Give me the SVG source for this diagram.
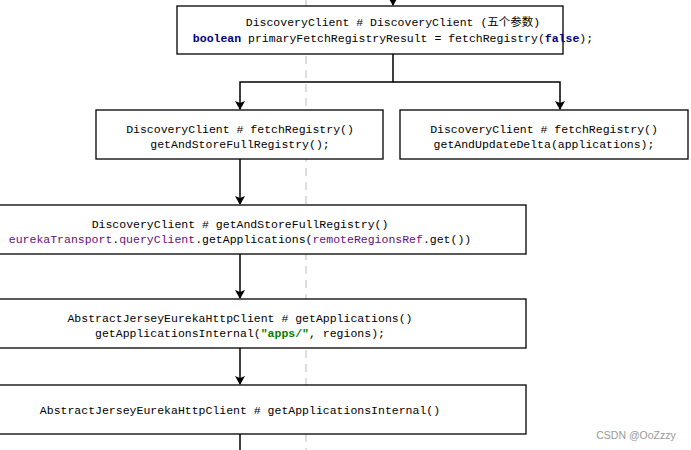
<svg xmlns="http://www.w3.org/2000/svg" width="691" height="450" viewBox="0 0 691 450">
<style>
.box{fill:#fff;stroke:#000;stroke-width:1.3}
text{font-family:"Liberation Mono","DejaVu Sans Mono","Noto Sans CJK SC",monospace;font-size:11.5px;fill:#000;text-anchor:middle}
.kw{fill:#000080;font-weight:bold}
.fld{fill:#660E7A}
.str{fill:#008000;font-weight:bold}
.c{stroke:#000;stroke-width:1.5;fill:none}
</style>
<defs><marker id="a" markerWidth="10" markerHeight="10" refX="8" refY="5" orient="auto" markerUnits="userSpaceOnUse"><path d="M0,0 L9,5 L0,10 L2,5 Z" fill="#000"/></marker></defs>
<rect width="691" height="450" fill="#fff"/>
<line x1="306" y1="0" x2="306" y2="450" stroke="#bbb" stroke-dasharray="8,6"/>
<g id="connectors">
<path class="c" d="M393,0 V5" marker-end="url(#a)"/>
<path class="c" d="M393,54 V82 H240 V109" marker-end="url(#a)"/>
<path class="c" d="M393,82 H560 V109" marker-end="url(#a)"/>
<path class="c" d="M240,159 V204" marker-end="url(#a)"/>
<path class="c" d="M240,254 V298" marker-end="url(#a)"/>
<path class="c" d="M240,348 V384" marker-end="url(#a)"/>
<path class="c" d="M240,434 V450"/>
</g>
<g id="n1"><rect class="box" x="177" y="6" width="386" height="48"/>
<text x="393" y="26">DiscoveryClient # DiscoveryClient (五个参数)</text>
<text x="393" y="42"><tspan class="kw">boolean</tspan> primaryFetchRegistryResult = fetchRegistry(<tspan class="kw">false</tspan>);</text></g>
<g id="n2"><rect class="box" x="96" y="110" width="287" height="49"/>
<text x="240" y="133">DiscoveryClient # fetchRegistry()</text>
<text x="240" y="148">getAndStoreFullRegistry();</text></g>
<g id="n3"><rect class="box" x="400" y="110" width="288" height="49"/>
<text x="544" y="133">DiscoveryClient # fetchRegistry()</text>
<text x="544" y="148">getAndUpdateDelta(applications);</text></g>
<g id="n4"><rect class="box" x="-1" y="205" width="527" height="49"/>
<text x="240" y="228">DiscoveryClient # getAndStoreFullRegistry()</text>
<text x="240" y="243"><tspan class="fld">eurekaTransport</tspan>.<tspan class="fld">queryClient</tspan>.getApplications(<tspan class="fld">remoteRegionsRef</tspan>.get())</text></g>
<g id="n5"><rect class="box" x="-1" y="299" width="527" height="49"/>
<text x="240" y="322">AbstractJerseyEurekaHttpClient # getApplications()</text>
<text x="240" y="337">getApplicationsInternal(<tspan class="str">"apps/"</tspan>, regions);</text></g>
<g id="n6"><rect class="box" x="-1" y="385" width="527" height="49"/>
<text x="240" y="414">AbstractJerseyEurekaHttpClient # getApplicationsInternal()</text></g>
<text x="636" y="439" style="font-family:'Liberation Sans',sans-serif;font-size:10.5px;fill:#999">CSDN @OoZzzy</text>
</svg>
